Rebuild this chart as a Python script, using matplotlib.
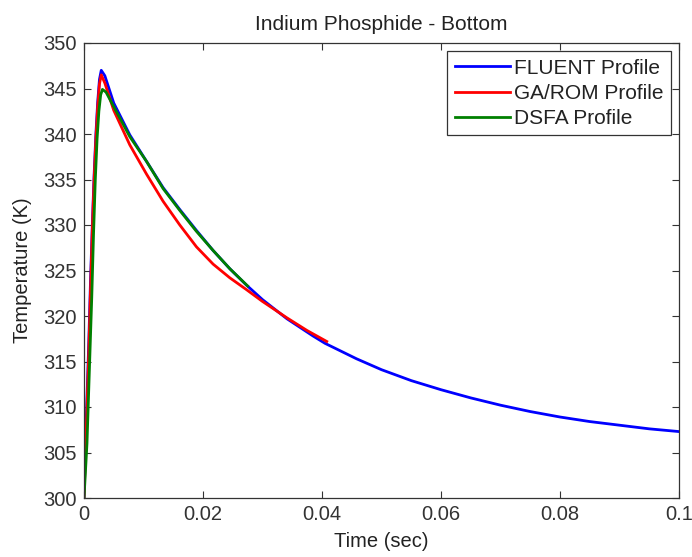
import matplotlib
matplotlib.use("Agg")
import matplotlib.pyplot as plt

# FLUENT profile
fluent_t = [0.0, 0.0004, 0.0008, 0.0011, 0.0014, 0.0017, 0.0020, 0.0023, 0.0026, 0.0029,
            0.0035, 0.0050, 0.0077, 0.0105, 0.0133, 0.0161, 0.0189, 0.0217, 0.0245,
            0.0273, 0.0300, 0.0341, 0.0385, 0.0405, 0.0458, 0.0500, 0.0550, 0.0600,
            0.0650, 0.0700, 0.0750, 0.0800, 0.0850, 0.0900, 0.0950, 0.1000]
fluent_T = [300.0, 309.0, 317.0, 324.0, 330.0, 335.5, 340.0, 343.5, 346.0, 347.0,
            346.4, 343.4, 339.9, 337.0, 334.1, 331.7, 329.4, 327.2, 325.2,
            323.4, 321.8, 319.7, 317.8, 317.0, 315.3, 314.1, 312.9, 311.9,
            311.0, 310.2, 309.5, 308.9, 308.4, 308.0, 307.6, 307.3]

# GA/ROM profile
garom_t = [0.0, 0.0004, 0.0008, 0.0011, 0.0014, 0.0017, 0.0020, 0.0023, 0.0026, 0.0029,
           0.0035, 0.0050, 0.0077, 0.0105, 0.0133, 0.0161, 0.0189, 0.0217, 0.0245,
           0.0273, 0.0300, 0.0341, 0.0375, 0.0408]
garom_T = [300.0, 308.0, 316.0, 323.0, 329.5, 335.0, 339.5, 343.0, 345.5, 346.5,
           345.6, 342.6, 338.8, 335.6, 332.6, 330.0, 327.6, 325.7, 324.2,
           322.9, 321.6, 319.8, 318.4, 317.2]

# DSFA profile
dsfa_t = [0.0, 0.0005, 0.0009, 0.0013, 0.0016, 0.0019, 0.0022, 0.0025, 0.0028, 0.0031,
          0.0037, 0.0050, 0.0077, 0.0105, 0.0133, 0.0161, 0.0189, 0.0217, 0.0245, 0.0275]
dsfa_T = [300.0, 306.0, 314.0, 322.0, 329.0, 335.0, 339.5, 342.5, 344.3, 344.9,
          344.6, 343.0, 339.7, 337.0, 334.0, 331.6, 329.3, 327.2, 325.2, 323.3]

x_ticks = [0, 0.02, 0.04, 0.06, 0.08, 0.1]
x_tick_labels = ["0", "0.02", "0.04", "0.06", "0.08", "0.1"]
y_ticks = [300, 305, 310, 315, 320, 325, 330, 335, 340, 345, 350]

plt.rcParams['font.family'] = ['Liberation Sans', 'DejaVu Sans']

fig = plt.figure(figsize=(6.92, 5.57), dpi=100)
ax = fig.add_axes([84 / 692, 59 / 557, 595 / 692, 455 / 557])

lw = 2.0
ax.plot(fluent_t, fluent_T, color='#0000ff', lw=lw, label='FLUENT Profile')
ax.plot(garom_t, garom_T, color='#ff0000', lw=lw, label='GA/ROM Profile')
ax.plot(dsfa_t, dsfa_T, color='#008000', lw=lw, label='DSFA Profile')

ax.set_xlim(0, 0.1)
ax.set_ylim(300, 350)
ax.set_xticks(x_ticks)
ax.set_xticklabels(x_tick_labels)
ax.set_yticks(y_ticks)
ax.tick_params(direction='in', top=True, right=True, length=5, width=0.8,
               labelsize=14.5, colors='#333333', pad=5)
for s in ax.spines.values():
    s.set_linewidth(0.9)
    s.set_color('#333333')

ax.set_xlabel('Time (sec)', fontsize=14.5, labelpad=6, color='#222222')
ax.set_ylabel('Temperature (K)', fontsize=14.5, labelpad=8, color='#222222')
ax.set_title('Indium Phosphide - Bottom', fontsize=15, pad=9, color='#222222')

leg = ax.legend(loc='upper right', fontsize=15, fancybox=False, framealpha=1,
                edgecolor='#333333', handlelength=2.64, handletextpad=0.2,
                borderaxespad=0.4, labelspacing=0.3, borderpad=0.35)
leg.get_frame().set_linewidth(0.9)
for txt in leg.get_texts():
    txt.set_color('#222222')

fig.savefig('out.png', dpi=100)
